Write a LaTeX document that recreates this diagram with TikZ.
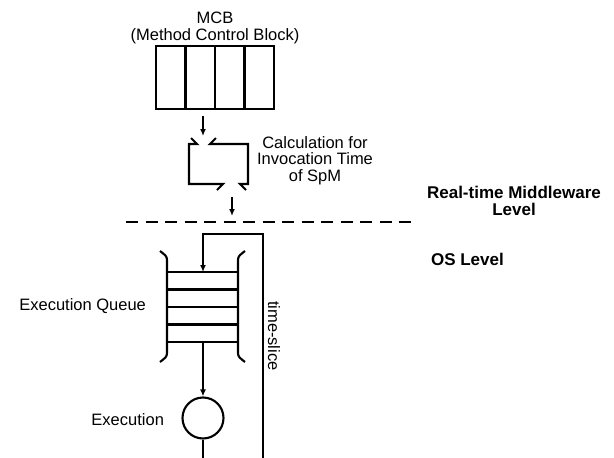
\documentclass[tikz,border=0pt]{standalone}
\usepackage{fontspec}
\setmainfont{Liberation Sans}
\usetikzlibrary{arrows.meta}
\begin{document}
\begin{tikzpicture}[x=1pt,y=-1pt, line width=2.1pt,
  lbl/.style={inner sep=0pt, font=\fontsize{16.5}{16.5}\selectfont},
  bl/.style={inner sep=0pt, font=\bfseries\fontsize{17}{17}\selectfont},
  arr/.style={-{Latex[length=7pt,width=6pt]}},
  dashline/.style={line width=2.6pt, dash pattern=on 12pt off 7.5pt},
  ]
\useasboundingbox (0,0) rectangle (614,458);

% MCB
\draw (156,46) rectangle (274,109);
\draw (185.5,46) -- (185.5,109) (215,46) -- (215,109) (244.5,46) -- (244.5,109);
\node[lbl, anchor=base] (mcb) at (215,23) {MCB};
\node[lbl, anchor=base] (mcbfull) at (215,40.5) {(Method Control Block)};

\coordinate (mcbout) at (203,116);
\coordinate (calcin) at (203,136);
\draw[arr] (mcbout) -- (calcin);

% calculation box
\draw (191,138) -- (197,144) -- (189,144) -- (189,184) -- (223,184) -- (217,190);
\draw (216,138) -- (210,144) -- (248,144) -- (248,184) -- (240,184) -- (246,190);
\node[lbl, anchor=base] (calc1) at (315,148) {Calculation for};
\node[lbl, anchor=base] (calc2) at (315,164.5) {Invocation Time};
\node[lbl, anchor=base] (calc3) at (315,181) {of SpM};

\coordinate (calcout) at (232,197);
\coordinate (calcdown) at (232,216);
\draw[arr] (calcout) -- (calcdown);

% level separator
\coordinate (dl) at (126,222);
\coordinate (dr) at (414,222);
\draw[dashline] (dl) -- (dr);
\node[bl, anchor=base] (rtm) at (514,198) {Real-time Middleware};
\node[bl, anchor=base] (lvl) at (514,215) {Level};
\node[bl, anchor=base west] (os) at (430,265) {OS Level};

% queue
\draw (160,251) .. controls (165,255) and (167,256) .. (167,260) -- (167,353) .. controls (167,357) and (165,358) .. (160,362);
\draw (245,251) .. controls (240,255) and (238,256) .. (238,260) -- (238,353) .. controls (238,357) and (240,358) .. (245,362);
\foreach \yy in {272,289.5,307,324.5,342} \draw (167,\yy) -- (238,\yy);
\node[lbl, anchor=base east] (eq) at (147,310) {Execution Queue};

% feedback loop
\coordinate (fbbot) at (263,458);
\coordinate (fbcorner) at (263,234);
\coordinate (fbtop) at (203,234);
\coordinate (qin) at (203,272);
\draw[arr] (fbbot) -- (fbcorner) -- (fbtop) -- (qin);
\node[lbl, rotate=-90, anchor=base west] (ts) at (268,300) {time-slice};

% execution
\node[circle, draw, minimum size=41pt, inner sep=0pt] (exec) at (203,418) {};
\coordinate (qout) at (203,342);
\draw[arr] (qout) -- (exec.north);
\coordinate (execbot) at (203,458);
\draw (exec.south) -- (execbot);
\node[lbl, anchor=base east] (ex) at (165,425) {Execution};
\end{tikzpicture}
\end{document}
